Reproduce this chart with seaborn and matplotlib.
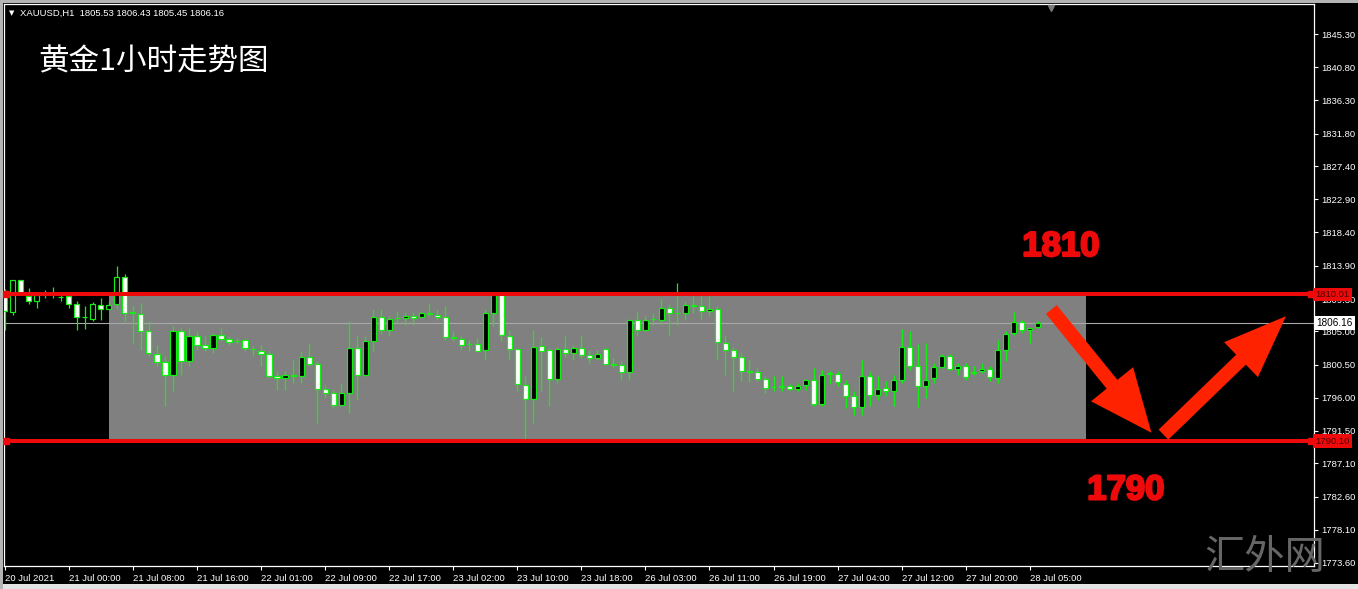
import numpy as np
import pandas as pd
import matplotlib
matplotlib.use("Agg")
import matplotlib.pyplot as plt
import matplotlib.transforms as mtransforms
import matplotlib.patheffects as pe
from matplotlib.patches import Rectangle, FancyArrowPatch
import seaborn as sns

# XAUUSD H1 bars (20 Jul 16:00 -> 28 Jul 06:00)
opens = [1810.45, 1807.60, 1811.90, 1809.77, 1809.09, 1810.09, 1810.20, 1809.70, 1809.77, 1808.77,
         1806.96, 1806.69, 1808.55, 1808.05, 1808.64, 1812.40, 1807.60, 1807.37, 1805.02, 1801.98,
         1800.81, 1799.13, 1805.02, 1801.03, 1804.34, 1803.12, 1802.75, 1804.47, 1803.98, 1803.70,
         1803.79, 1802.66, 1802.30, 1801.94, 1799.00, 1798.68, 1799.09, 1798.91, 1801.53, 1800.63,
         1797.19, 1796.64, 1795.06, 1796.64, 1802.75, 1799.13, 1803.75, 1806.96, 1805.24, 1806.75,
         1806.83, 1807.05, 1807.01, 1807.46, 1807.28, 1806.96, 1804.20, 1803.98, 1803.30, 1803.34,
         1802.44, 1807.51, 1809.86, 1804.43, 1802.62, 1797.77, 1795.83, 1802.98, 1802.44, 1798.59,
         1802.62, 1802.07, 1802.75, 1801.76, 1801.44, 1802.62, 1800.55, 1800.49, 1799.45, 1806.51,
         1805.15, 1806.65, 1806.51, 1808.10, 1807.45, 1807.51, 1808.50, 1808.41, 1807.82, 1808.05,
         1803.43, 1802.53, 1801.53, 1799.62, 1799.45, 1798.54, 1797.42, 1797.50, 1797.64, 1797.19,
         1797.68, 1798.36, 1795.19, 1799.22, 1799.27, 1797.91, 1796.28, 1794.70, 1799.00, 1796.33,
         1797.32, 1796.87, 1798.45, 1802.89, 1800.26, 1797.64, 1798.68, 1800.17, 1801.71, 1799.90,
         1800.35, 1799.40, 1799.58, 1799.90, 1798.73, 1802.44, 1804.79, 1806.24, 1805.15, 1805.53]
highs = [1810.77, 1812.00, 1812.00, 1810.90, 1810.22, 1810.58, 1811.04, 1809.86, 1809.80, 1809.09,
         1808.41, 1808.96, 1809.54, 1809.09, 1813.84, 1812.71, 1808.41, 1808.86, 1806.37, 1803.21,
         1801.62, 1805.70, 1805.47, 1805.47, 1805.02, 1804.34, 1804.79, 1805.47, 1804.34, 1804.11,
         1804.11, 1802.98, 1803.21, 1802.30, 1799.58, 1799.58, 1801.17, 1802.30, 1803.43, 1800.94,
         1797.77, 1797.10, 1798.00, 1806.37, 1804.34, 1804.43, 1807.96, 1807.96, 1807.05, 1807.73,
         1807.60, 1807.60, 1807.73, 1808.64, 1808.05, 1808.41, 1805.02, 1804.34, 1803.89, 1804.11,
         1807.96, 1810.22, 1810.22, 1805.24, 1802.66, 1798.91, 1805.24, 1804.25, 1802.75, 1802.89,
         1804.43, 1803.21, 1804.56, 1802.53, 1802.53, 1802.75, 1801.40, 1800.94, 1806.69, 1807.60,
         1807.05, 1807.51, 1809.41, 1808.64, 1811.49, 1809.09, 1809.77, 1809.77, 1809.77, 1808.41,
         1804.56, 1802.89, 1802.07, 1801.17, 1800.04, 1798.91, 1798.91, 1798.91, 1797.91, 1798.00,
         1798.54, 1800.04, 1799.81, 1799.58, 1799.58, 1798.36, 1796.87, 1801.17, 1799.45, 1798.91,
         1798.23, 1799.13, 1805.33, 1805.02, 1803.34, 1803.43, 1800.72, 1801.98, 1801.98, 1800.72,
         1800.72, 1800.35, 1800.72, 1800.35, 1803.89, 1805.02, 1807.60, 1806.60, 1805.47, 1806.43]
lows = [1805.24, 1807.28, 1809.90, 1808.64, 1808.19, 1809.54, 1809.54, 1809.09, 1808.19, 1805.24,
        1805.33, 1806.37, 1806.60, 1807.96, 1807.96, 1806.37, 1803.43, 1802.53, 1801.62, 1800.26,
        1794.83, 1796.87, 1799.13, 1800.26, 1802.53, 1802.30, 1802.07, 1803.66, 1803.21, 1803.34,
        1802.30, 1801.62, 1800.26, 1798.68, 1797.10, 1797.10, 1798.00, 1798.00, 1800.26, 1792.57,
        1795.96, 1794.60, 1794.83, 1793.93, 1795.74, 1798.91, 1802.30, 1804.70, 1804.43, 1806.15,
        1805.92, 1805.92, 1806.83, 1807.05, 1806.60, 1803.89, 1803.66, 1802.44, 1802.30, 1802.30,
        1801.17, 1805.70, 1803.66, 1801.17, 1796.87, 1790.30, 1792.57, 1796.87, 1794.83, 1798.00,
        1801.53, 1801.17, 1801.40, 1800.72, 1801.17, 1800.49, 1800.04, 1798.45, 1798.45, 1804.43,
        1805.02, 1805.92, 1805.92, 1804.56, 1805.92, 1806.60, 1807.51, 1806.69, 1807.05, 1801.17,
        1799.13, 1796.87, 1798.23, 1798.09, 1798.23, 1796.64, 1796.87, 1796.87, 1797.01, 1796.87,
        1797.10, 1794.92, 1794.83, 1797.91, 1797.55, 1794.60, 1793.70, 1793.70, 1794.83, 1795.74,
        1796.19, 1794.83, 1798.00, 1799.81, 1794.74, 1795.96, 1798.00, 1800.04, 1799.81, 1799.13,
        1798.45, 1799.13, 1799.36, 1798.23, 1798.00, 1800.94, 1804.56, 1804.79, 1803.43, 1805.45]
closes = [1807.73, 1811.94, 1810.00, 1809.09, 1809.86, 1810.18, 1810.15, 1809.65, 1808.77, 1806.96,
          1806.90, 1808.64, 1808.05, 1808.55, 1812.40, 1807.51, 1807.42, 1805.11, 1802.07, 1800.81,
          1799.13, 1805.02, 1801.03, 1804.34, 1803.21, 1802.75, 1804.47, 1803.98, 1803.61, 1803.75,
          1802.75, 1802.57, 1801.94, 1798.91, 1798.73, 1799.09, 1798.91, 1801.53, 1800.63, 1797.19,
          1796.64, 1795.06, 1796.64, 1802.75, 1799.13, 1803.66, 1806.96, 1805.15, 1806.69, 1806.80,
          1807.05, 1806.83, 1807.51, 1807.33, 1806.96, 1804.25, 1804.07, 1803.21, 1803.34, 1802.39,
          1807.51, 1809.86, 1804.56, 1802.62, 1797.91, 1795.83, 1802.85, 1802.39, 1798.54, 1802.62,
          1802.07, 1802.75, 1801.85, 1801.44, 1801.89, 1800.63, 1800.45, 1799.45, 1806.51, 1805.15,
          1806.60, 1806.72, 1808.10, 1807.42, 1807.51, 1808.55, 1808.58, 1807.82, 1808.05, 1803.52,
          1802.53, 1801.53, 1799.68, 1799.55, 1798.54, 1797.32, 1797.50, 1797.58, 1797.19, 1797.64,
          1798.36, 1795.19, 1799.13, 1799.30, 1798.09, 1796.28, 1794.74, 1799.00, 1796.33, 1797.23,
          1796.87, 1798.36, 1802.89, 1800.35, 1797.64, 1798.45, 1800.17, 1801.71, 1799.90, 1800.35,
          1798.82, 1799.48, 1799.90, 1798.82, 1802.44, 1804.70, 1806.24, 1805.24, 1805.42, 1806.16]

# x axis labels, one every 8 bars
time_labels = ["20 Jul 2021", "21 Jul 00:00", "21 Jul 08:00", "21 Jul 16:00", "22 Jul 01:00",
               "22 Jul 09:00", "22 Jul 17:00", "23 Jul 02:00", "23 Jul 10:00", "23 Jul 18:00",
               "26 Jul 03:00", "26 Jul 11:00", "26 Jul 19:00", "27 Jul 04:00", "27 Jul 12:00",
               "27 Jul 20:00", "28 Jul 05:00"]
price_ticks = [1845.30, 1840.80, 1836.30, 1831.80, 1827.40, 1822.90, 1818.40, 1813.90, 1809.30,
               1805.00, 1800.50, 1796.00, 1791.50, 1787.10, 1782.60, 1778.10, 1773.60]

# drawn objects: range box and the two levels
zone_top = 1810.01
zone_bottom = 1790.10
zone_start, zone_end = 13, 135
level_labels = ["1810", "1790"]

GREEN = "#14ee14"
RED = "#ee0a0a"

sns.set_theme(style="dark", rc={"axes.facecolor": "black", "figure.facecolor": "black"})
plt.rcParams["font.family"] = ["Liberation Sans", "Noto Sans CJK SC", "DejaVu Sans"]

df = pd.DataFrame({"open": opens, "high": highs, "low": lows, "close": closes})
df["bar"] = np.arange(len(df))
df["bull"] = df["close"] > df["open"]

fig = plt.figure(figsize=(13.58, 5.89), dpi=100)
ax = fig.add_axes([4 / 1358, 23 / 589, 1310 / 1358, 562 / 589])
ax.set_facecolor("black")

# range rectangle
ax.add_patch(Rectangle((zone_start, zone_bottom), zone_end - zone_start, zone_top - zone_bottom,
                       facecolor="#808080", edgecolor="none", zorder=1))

# current price line
last = df.iloc[-1]
ax.axhline(last["close"], color="#a8a8a8", lw=0.8, zorder=2)

# candles
ax.vlines(df["bar"], df["low"], df["high"], color=GREEN, lw=0.9, zorder=3)
body_h = (df["close"] - df["open"]).abs().clip(lower=0.04)
body_b = df[["open", "close"]].min(axis=1)
ax.bar(df["bar"], body_h, bottom=body_b, width=0.64,
       color=np.where(df["bull"], "black", "white"), edgecolor=GREEN, linewidth=0.85, zorder=4)

# level lines
for lvl in [zone_top, zone_bottom]:
    ax.axhline(lvl, color=RED, lw=2.9, zorder=5)
    ax.plot([0.2, 163.1], [lvl, lvl], "s", ms=4.5, color=RED, zorder=6, clip_on=False)

ax.set_xlim(-0.1, 163.5)
ax.set_ylim(1773.19, 1849.37)

# arrows
arrow1 = FancyArrowPatch((130.7, 1807.96), (143.2, 1791.25), mutation_scale=1,
                         arrowstyle="simple,head_length=45,head_width=39,tail_width=10",
                         color="#ff2200", lw=0, shrinkA=0, shrinkB=0, zorder=7)
arrow2 = FancyArrowPatch((144.7, 1791.0), (160.0, 1807.05), mutation_scale=1,
                         arrowstyle="simple,head_length=45,head_width=35,tail_width=10",
                         color="#ff2200", lw=0, shrinkA=0, shrinkB=0, zorder=7)
ax.add_patch(arrow1)
ax.add_patch(arrow2)

heavy = [pe.withStroke(linewidth=1.6, foreground=RED)]
ax.text(131.9, 1816.5, level_labels[0], color=RED, fontsize=25, fontweight="bold",
        ha="center", va="center", zorder=8, path_effects=heavy)
ax.text(140.0, 1783.5, level_labels[1], color=RED, fontsize=25, fontweight="bold",
        ha="center", va="center", zorder=8, path_effects=heavy)

# axes / ticks
ax.set_xticks(np.arange(0, len(df), 8))
ax.set_xticklabels(time_labels, ha="left")
ax.yaxis.tick_right()
ax.set_yticks(price_ticks)
ax.set_yticklabels([f"{p:.2f}" for p in price_ticks])
ax.tick_params(axis="both", colors="white", labelcolor="white", labelsize=6.8,
               direction="out", length=3, width=0.8, pad=2, bottom=True, right=True, left=False)
ax.tick_params(axis="x", pad=3)
for s in ax.spines.values():
    s.set_color("white")
    s.set_linewidth(0.9)
ax.grid(False)

# price tags on the right scale
blend = mtransforms.blended_transform_factory(ax.transAxes, ax.transData)
for lvl in [zone_top, zone_bottom]:
    ax.text(1.001, lvl, f"{lvl:.2f}", transform=blend, fontsize=6.8, color="#4a0000",
            ha="left", va="center", clip_on=False, zorder=9,
            bbox=dict(boxstyle="square,pad=0.25", fc=RED, ec="none"))
ax.text(1.002, last["close"], f"{last['close']:.2f}", transform=blend, fontsize=7.2, color="black",
        ha="left", va="center", clip_on=False, zorder=9,
        bbox=dict(boxstyle="square,pad=0.2", fc="white", ec="none"))

# chart shift marker
ax.plot([130.6], [1848.8], marker="v", ms=5, color="#7a7a7a", zorder=6, clip_on=False)

# header and titles
fig.text(9 / 1358, 1 - 13 / 589, "▼", fontsize=5, color="white", family=["DejaVu Sans"], va="center")
fig.text(20 / 1358, 1 - 13 / 589,
         f"XAUUSD,H1  {last['open']:.2f} {last['high']:.2f} {last['low']:.2f} {last['close']:.2f}",
         fontsize=6.8, color="white", va="center")
fig.text(38 / 1358, 1 - 62 / 589, "黄金1小时走势图", fontsize=22, color="white",
         family=["Noto Sans CJK SC", "DejaVu Sans"], va="center")
fig.text(1265 / 1358, 1 - 557 / 589, "汇外网", fontsize=29, color="#666666",
         family=["Noto Sans CJK SC", "DejaVu Sans"], fontweight="light", ha="center", va="center", zorder=10)

# window frame strips
fig.patches.append(Rectangle((0, 0), 1, 5 / 589, transform=fig.transFigure, fc="#e4e4e4", ec="none"))
fig.patches.append(Rectangle((0, 1 - 3 / 589), 1, 3 / 589, transform=fig.transFigure, fc="#b4b4b4", ec="none"))
fig.patches.append(Rectangle((0, 0), 3 / 1358, 1, transform=fig.transFigure, fc="#b4b4b4", ec="none"))

fig.savefig("out.png", dpi=100, facecolor="black")
